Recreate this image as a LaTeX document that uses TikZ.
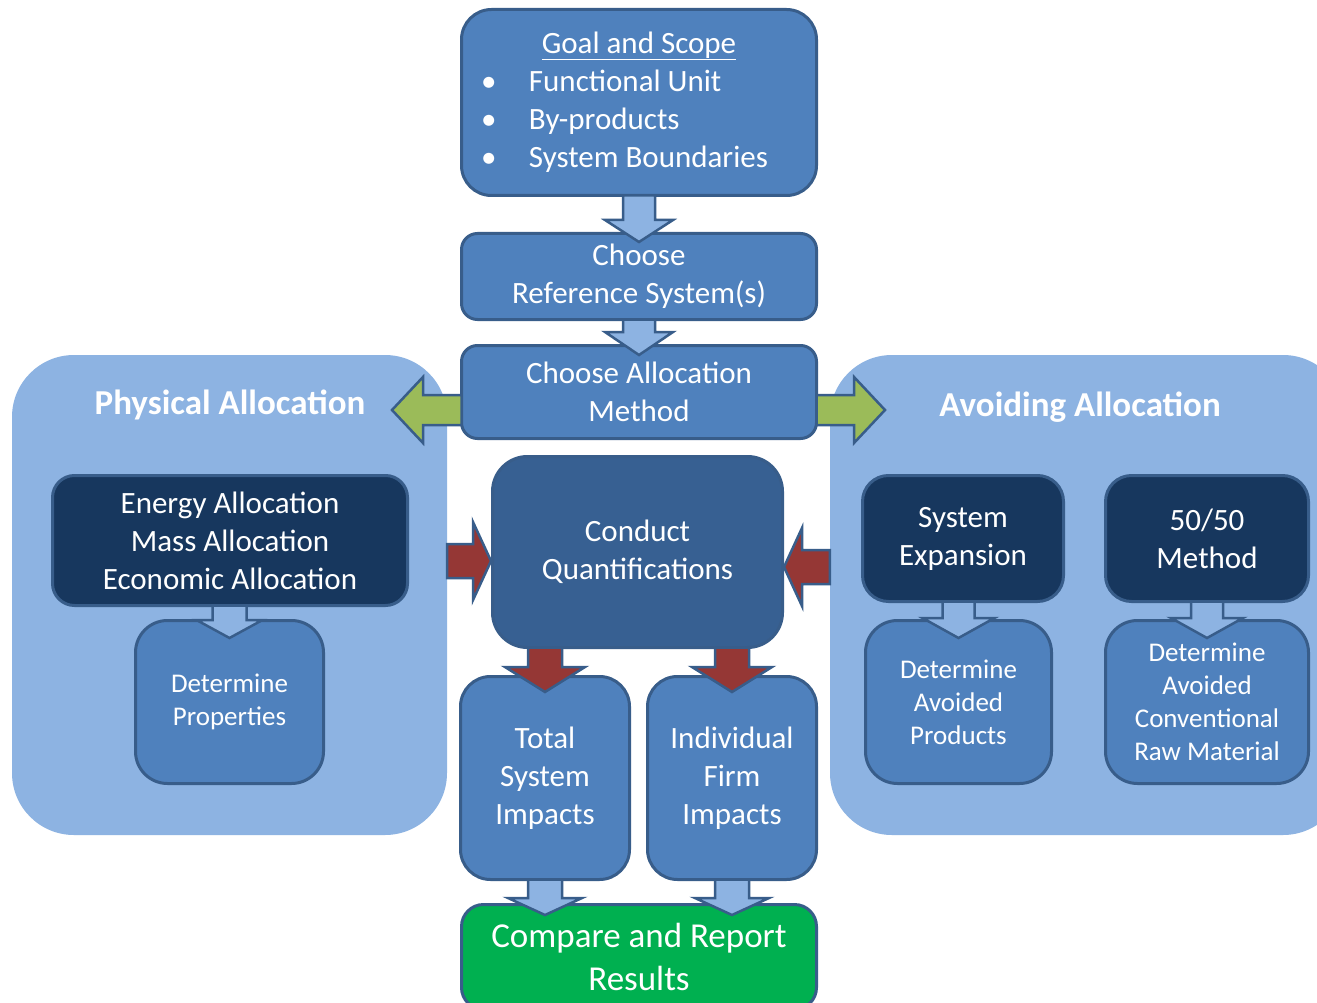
\documentclass[tikz,border=0pt]{standalone}
\usepackage{fontspec}
\setmainfont{Carlito}
\usetikzlibrary{calc}
\definecolor{medblue}{HTML}{4F81BD}
\definecolor{bordc}{HTML}{385D8A}
\definecolor{lightb}{HTML}{8DB3E2}
\definecolor{navyc}{HTML}{17375E}
\definecolor{condc}{HTML}{376092}
\definecolor{greenbox}{HTML}{00B050}
\definecolor{greenarr}{HTML}{9BBB59}
\definecolor{redarr}{HTML}{953735}
% down block arrow: style, start, tip, shaft half, head half, head length
\newcommand\darr[6]{\filldraw[#1] let \p1=(#2), \p2=(#3) in
  (\x1-#4pt,\y1) -- (\x1-#4pt,\y2+#6pt) -- (\x1-#5pt,\y2+#6pt) -- (\x1,\y2)
  -- (\x1+#5pt,\y2+#6pt) -- (\x1+#4pt,\y2+#6pt) -- (\x1+#4pt,\y1) -- cycle;}
% left-pointing block arrow
\newcommand\larr[6]{\filldraw[#1] let \p1=(#2), \p2=(#3) in
  (\x1,\y1+#4pt) -- (\x2+#6pt,\y1+#4pt) -- (\x2+#6pt,\y1+#5pt) -- (\x2,\y1)
  -- (\x2+#6pt,\y1-#5pt) -- (\x2+#6pt,\y1-#4pt) -- (\x1,\y1-#4pt) -- cycle;}
% right-pointing block arrow
\newcommand\rarr[6]{\filldraw[#1] let \p1=(#2), \p2=(#3) in
  (\x1,\y1+#4pt) -- (\x2-#6pt,\y1+#4pt) -- (\x2-#6pt,\y1+#5pt) -- (\x2,\y1)
  -- (\x2-#6pt,\y1-#5pt) -- (\x2-#6pt,\y1-#4pt) -- (\x1,\y1-#4pt) -- cycle;}
\tikzset{
  cont/.style={rectangle, fill=lightb, rounded corners=62pt, inner sep=0pt},
  box/.style={rectangle, fill=medblue, draw=bordc, line width=3pt, text=white,
    align=center, inner sep=0pt, font=\fontsize{31}{38}\selectfont},
  navybox/.style={box, fill=navyc},
  smallbox/.style={box, font=\fontsize{27}{33}\selectfont},
  titletext/.style={text=white, font=\bfseries\fontsize{35}{42}\selectfont, inner sep=0pt},
  barrow/.style={fill=lightb, draw=bordc, line width=2.5pt, line join=miter},
  rarrow/.style={barrow, fill=redarr},
  garrow/.style={barrow, fill=greenarr},
}
\begin{document}
\begin{tikzpicture}[x=1pt,y=-1pt]
\useasboundingbox (0,0) rectangle (1317,1003);
\clip (0,0) rectangle (1317,1003);
\fill[white] (0,0) rectangle (1317,1003);

% containers
\node[cont, minimum width=435pt, minimum height=480pt] (phys) at (229.5,595) {};
\node[cont, minimum width=515pt, minimum height=480pt] (avoid) at (1087.5,595) {};
\node[titletext] (physt) at (230,405) {Physical Allocation};
\node[titletext] (avoidt) at (1080,407) {Avoiding Allocation};

% central column
\node[box, minimum width=355pt, minimum height=186pt, rounded corners=30pt] (goal) at (639,102.5)
  {\begin{tabular}{@{}l@{\hspace{28pt}}}
   \makebox[288pt][c]{\hspace{28pt}\underline{Goal and Scope}}\\
   \makebox[48pt][l]{\textbullet}Functional Unit\\
   \makebox[48pt][l]{\textbullet}By-products\\
   \makebox[48pt][l]{\textbullet}System Boundaries
   \end{tabular}};
\node[box, minimum width=355pt, minimum height=86pt, rounded corners=16pt] (ref) at (639,276.5)
  {Choose\\Reference System(s)};
\node[box, minimum width=355pt, minimum height=93pt, rounded corners=16pt] (alloc) at (639,392)
  {Choose Allocation\\Method};
\node[box, fill=condc, minimum width=290pt, minimum height=191pt, rounded corners=35pt] (conduct) at (637.5,552)
  {Conduct\\Quantifications};
\node[box, minimum width=169pt, minimum height=203pt, rounded corners=30pt] (total) at (545,778)
  {Total\\System\\Impacts};
\node[box, minimum width=169pt, minimum height=203pt, rounded corners=30pt] (indiv) at (732,778)
  {Individual\\Firm\\Impacts};
\node[box, fill=greenbox, font=\fontsize{35}{43}\selectfont, minimum width=355pt, minimum height=105pt, rounded corners=22pt] (compare) at (639,957)
  {Compare and Report\\Results};

% left group
\node[navybox, minimum width=355pt, minimum height=130pt, rounded corners=22pt] (energy) at (230,540.5)
  {Energy Allocation\\Mass Allocation\\Economic Allocation};
\node[smallbox, minimum width=188pt, minimum height=163pt, rounded corners=32pt] (prop) at (229.5,702)
  {Determine\\Properties};

% right group
\node[navybox, minimum width=201pt, minimum height=126pt, rounded corners=26pt] (sysexp) at (963,538.5)
  {System\\Expansion};
\node[navybox, minimum width=203pt, minimum height=126pt, rounded corners=26pt] (fifty) at (1207,538.5)
  {50/50\\Method};
\node[smallbox, minimum width=186pt, minimum height=163pt, rounded corners=32pt] (avprod) at (958.5,702)
  {Determine\\Avoided\\Products};
\node[smallbox, minimum width=203pt, minimum height=163pt, rounded corners=32pt] (rawmat) at (1207,702)
  {Determine\\Avoided\\Conventional\\Raw Material};

% connectors
\coordinate (gtipL) at (392,410);
\coordinate (gtipR) at (885,410);

\darr{barrow}{$(goal.south)+(0,-1.5)$}{$(ref.north)+(0,10)$}{16}{34}{22}
\darr{barrow}{$(ref.south)+(0,-1.5)$}{$(alloc.north)+(0,11)$}{16}{34}{23}
\larr{garrow}{$(alloc.west |- gtipL)+(1.5,0)$}{gtipL}{15}{33}{31}
\rarr{garrow}{$(alloc.east |- gtipR)+(-1.5,0)$}{gtipR}{15}{33}{31}
\rarr{rarrow}{$(phys.east |- conduct.west)+(0,9)$}{$(conduct.west)+(0,9)$}{17}{39}{18}
\larr{rarrow}{$(avoid.west |- conduct.east)+(0,15)$}{$(conduct.east)+(0,15)$}{17}{39}{18}
\darr{rarrow}{$(conduct.south -| total.north)+(0,-1.5)$}{$(total.north)+(0,17)$}{17}{40}{25}
\darr{rarrow}{$(conduct.south -| indiv.north)+(0,-1.5)$}{$(indiv.north)+(0,17)$}{17}{40}{25}
\darr{barrow}{$(total.south)+(0,-1.5)$}{$(compare.north -| total.south)+(0,12)$}{17}{37}{17}
\darr{barrow}{$(indiv.south)+(0,-1.5)$}{$(compare.north -| indiv.south)+(0,12)$}{17}{37}{17}
\darr{barrow}{$(energy.south -| prop.north)+(0,-1.5)$}{$(prop.north)+(0,19)$}{17}{33}{18}
\darr{barrow}{$(sysexp.south -| avprod.north)+(0,-1.5)$}{$(avprod.north)+(0,19)$}{16}{36}{20}
\darr{barrow}{$(fifty.south -| rawmat.north)+(0,-1.5)$}{$(rawmat.north)+(0,19)$}{16}{36}{20}
\end{tikzpicture}
\end{document}
